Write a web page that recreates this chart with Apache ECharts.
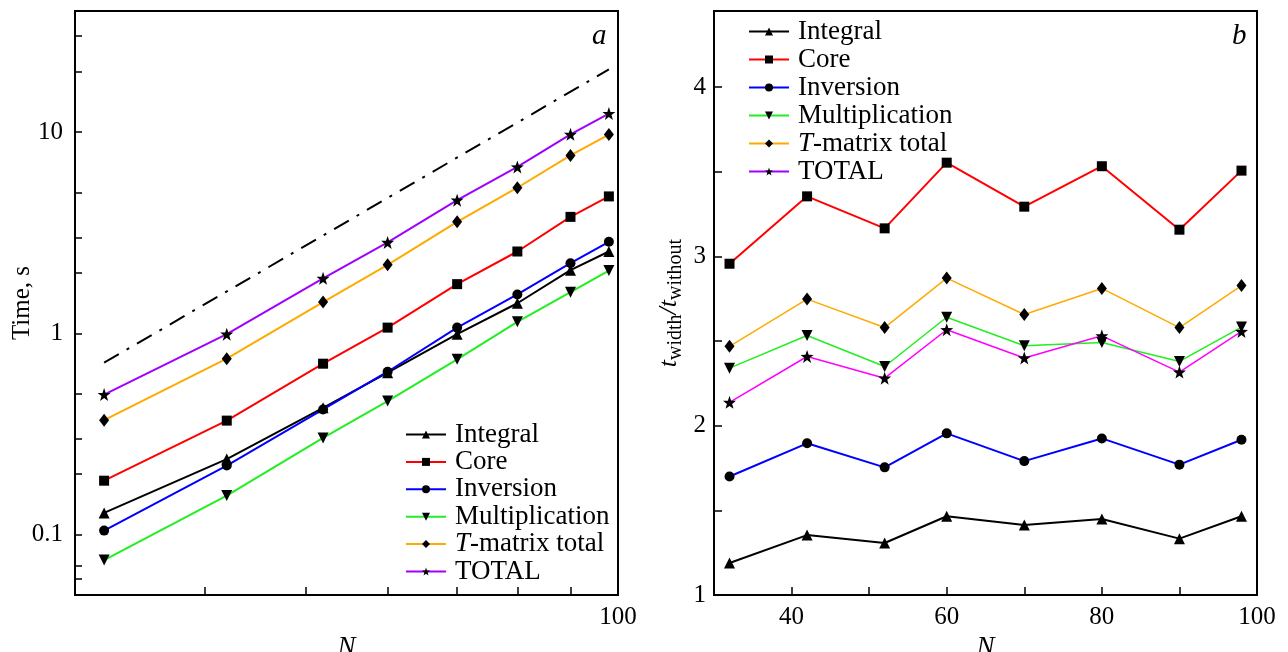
<!DOCTYPE html>
<html>
<head>
<meta charset="utf-8">
<script src="https://cdn.jsdelivr.net/npm/echarts@6/dist/echarts.min.js"></script>
<style>
  html, body { margin: 0; padding: 0; background: #fff; }
  #chart { width: 1288px; height: 652px; }
</style>
</head>
<body>
<div id="chart"></div>
<script>
// matrix size N, same for both panels
const N = [32, 42, 52, 60, 70, 80, 90, 98];

// panel a: time, s
const integralTime  = [0.128, 0.237, 0.426, 0.637, 0.99, 1.41, 2.06, 2.55];
const coreTime      = [0.185, 0.368, 0.706, 1.067, 1.755, 2.55, 3.79, 4.79];
const inversionTime = [0.1045, 0.22, 0.418, 0.644, 1.067, 1.56, 2.23, 2.85];
const multTime      = [0.0746, 0.156, 0.302, 0.46, 0.742, 1.14, 1.60, 2.05];
const tmatrixTime   = [0.37, 0.748, 1.43, 2.19, 3.58, 5.29, 7.66, 9.72];
const totalTime     = [0.496, 0.99, 1.875, 2.83, 4.59, 6.71, 9.75, 12.37];
// N^3 guide line
const refN    = [32, 98];
const refTime = [0.714, 20.5];

// panel b: t_width / t_without
const integralRatio  = [1.189, 1.354, 1.307, 1.465, 1.413, 1.449, 1.333, 1.465];
const coreRatio      = [2.957, 3.355, 3.166, 3.554, 3.294, 3.533, 3.158, 3.507];
const inversionRatio = [1.70, 1.896, 1.754, 1.955, 1.791, 1.925, 1.77, 1.917];
const multRatio      = [2.34, 2.533, 2.35, 2.641, 2.472, 2.492, 2.38, 2.583];
const tmatrixRatio   = [2.469, 2.748, 2.58, 2.872, 2.657, 2.811, 2.58, 2.828];
const totalRatio     = [2.138, 2.409, 2.281, 2.567, 2.40, 2.531, 2.317, 2.557];

const names = ['Integral', 'Core', 'Inversion', 'Multiplication', 'T-matrix total', 'TOTAL'];
const timeTicksX = [40, 50, 60, 70, 80, 90, 100];
const timeLabelsX = [100];
const timeTicksY = [0.06, 0.07, 0.2, 0.3, 0.5, 2, 3, 5, 20, 30, 0.1, 1, 10];
const timeLabelsY = [0.1, 1, 10];

const FONT = 'Liberation Serif';
const starPath = 'path://M0,-10L2.35,-3.24L9.51,-3.09L3.8,1.24L5.88,8.09L0,4L-5.88,8.09L-3.8,1.24L-9.51,-3.09L-2.35,-3.24Z';
const downTri = 'path://M-5,-4L5,-4L0,5Z';

const styles = [
  { color: '#000000', symbol: 'triangle', size: 11 },
  { color: '#ff0000', symbol: 'rect', size: 10 },
  { color: '#0000ff', symbol: 'circle', size: 10 },
  { color: '#22ee22', symbol: downTri, size: 11 },
  { color: '#ffaa00', symbol: 'diamond', size: [10, 13] },
  { color: '#a000ff', symbol: starPath, size: 13 }
];

const zip = (xs, ys) => xs.map((x, i) => [x, ys[i]]);

function makeSeries(idx, values, gi, color, width) {
  const s = styles[idx];
  return {
    name: names[idx],
    type: 'line',
    xAxisIndex: gi,
    yAxisIndex: gi,
    data: zip(N, values),
    symbol: s.symbol,
    symbolSize: s.size,
    showSymbol: true,
    itemStyle: { color: '#000' },
    lineStyle: { color: color || s.color, width: width || 2 },
    z: 3
  };
}

const leftSeries = [integralTime, coreTime, inversionTime, multTime, tmatrixTime, totalTime]
  .map((v, i) => makeSeries(i, v, 0));
const rightWidths = [2, 2, 2, 1.5, 1.5, 1.5];
const rightSeries = [integralRatio, coreRatio, inversionRatio, multRatio, tmatrixRatio, totalRatio]
  .map((v, i) => makeSeries(i, v, 1, i === 5 ? '#ff00ff' : null, rightWidths[i]));

const legendText = {
  fontFamily: FONT, fontSize: 27, lineHeight: 26, color: '#000', padding: [0, 0, 0, 4],
  rich: { i: { fontFamily: FONT, fontSize: 27, lineHeight: 26, fontStyle: 'italic', color: '#000' } }
};
const legendFmt = name => name === 'T-matrix total' ? '{i|T}-matrix total' : name;

const axisLineStyle = { lineStyle: { color: '#000', width: 2 } };

const option = {
  animation: false,
  backgroundColor: '#fff',
  title: [
    { text: 'a', left: 587, top: 17, textStyle: { fontFamily: FONT, fontStyle: 'italic', fontWeight: 'normal', fontSize: 29, color: '#000' } },
    { text: 'b', left: 1227, top: 17, textStyle: { fontFamily: FONT, fontStyle: 'italic', fontWeight: 'normal', fontSize: 29, color: '#000' } }
  ],
  grid: [
    { left: 75, top: 11, width: 543, height: 584, show: true, borderColor: '#000', borderWidth: 2, outerBoundsMode: 'none' },
    { left: 714, top: 11, width: 543, height: 584, show: true, borderColor: '#000', borderWidth: 2, outerBoundsMode: 'none' }
  ],
  legend: [
    {
      data: names, orient: 'vertical', left: 405, top: 421, padding: 0,
      itemWidth: 40, itemHeight: 10, itemGap: 0.4,
      textStyle: legendText, formatter: legendFmt, selectedMode: false
    },
    {
      data: names, orient: 'vertical', left: 748, top: 18, padding: 0,
      itemWidth: 40, itemHeight: 10, itemGap: 1,
      textStyle: legendText, formatter: legendFmt, selectedMode: false
    }
  ],
  xAxis: [
    {
      type: 'log', gridIndex: 0, min: 30, max: 100, logBase: 10,
      name: 'N', nameLocation: 'middle', nameGap: 31,
      nameTextStyle: { fontFamily: FONT, fontStyle: 'italic', fontSize: 27, color: '#000' },
      axisLine: axisLineStyle,
      axisTick: { inside: true, length: 8, lineStyle: { color: '#000', width: 1.5 }, customValues: timeTicksX },
      axisLabel: { fontFamily: FONT, fontSize: 25, color: '#000', margin: 10, customValues: timeLabelsX },
      splitLine: { show: false }
    },
    {
      type: 'value', gridIndex: 1, min: 30, max: 100, interval: 10,
      name: 'N', nameLocation: 'middle', nameGap: 31,
      nameTextStyle: { fontFamily: FONT, fontStyle: 'italic', fontSize: 27, color: '#000' },
      axisLine: axisLineStyle,
      axisTick: { inside: true, length: 8, lineStyle: { color: '#000', width: 1.5 } },
      axisLabel: {
        fontFamily: FONT, fontSize: 25, color: '#000', margin: 10,
        formatter: v => (v % 20 === 0 ? String(v) : '')
      },
      splitLine: { show: false }
    }
  ],
  yAxis: [
    {
      type: 'log', gridIndex: 0, min: 0.05, max: 40, logBase: 10,
      name: 'Time, s', nameLocation: 'middle', nameGap: 40, nameRotate: 90, nameMoveOverlap: false,
      nameTextStyle: { fontFamily: FONT, fontSize: 25, color: '#000' },
      axisLine: axisLineStyle,
      axisTick: { inside: true, length: 7, lineStyle: { color: '#000', width: 1.5 }, customValues: timeTicksY },
      axisLabel: { fontFamily: FONT, fontSize: 25, color: '#000', margin: 12, customValues: timeLabelsY },
      splitLine: { show: false }
    },
    {
      type: 'value', gridIndex: 1, min: 1, max: 4.45, interval: 0.5,
      name: '{i|t}{s|width}{i|/t}{s|without}', nameLocation: 'middle', nameGap: 32, nameRotate: 90,
      nameTextStyle: {
        fontFamily: FONT, fontSize: 26, color: '#000',
        rich: {
          i: { fontFamily: FONT, fontSize: 26, fontStyle: 'italic', color: '#000', verticalAlign: 'bottom', lineHeight: 30 },
          s: { fontFamily: FONT, fontSize: 20, color: '#000', verticalAlign: 'bottom', lineHeight: 22, padding: [0, 0, -4, 0] }
        }
      },
      axisLine: axisLineStyle,
      axisTick: { inside: true, length: 8, lineStyle: { color: '#000', width: 1.5 } },
      axisLabel: {
        fontFamily: FONT, fontSize: 25, color: '#000', margin: 8,
        formatter: v => (Math.abs(v - Math.round(v)) < 1e-9 ? String(Math.round(v)) : '')
      },
      splitLine: { show: false }
    }
  ],
  series: [
    {
      name: 'ref', type: 'line', xAxisIndex: 0, yAxisIndex: 0,
      data: zip(refN, refTime), symbol: 'none',
      lineStyle: { color: '#000', width: 2, type: [17, 9, 3, 9] }, z: 2
    },
    ...leftSeries,
    ...rightSeries
  ]
};

const chart = echarts.init(document.getElementById('chart'));
chart.setOption(option);
</script>
</body>
</html>
